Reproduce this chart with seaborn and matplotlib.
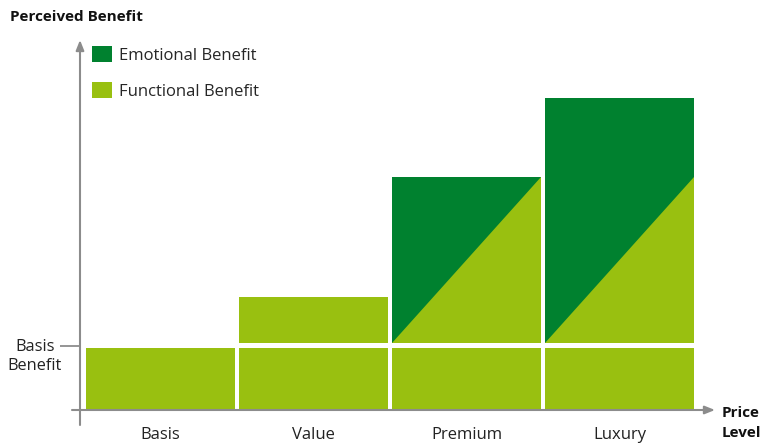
import matplotlib
matplotlib.use("Agg")
import matplotlib.pyplot as plt
from matplotlib.patches import Patch
import seaborn as sns
import numpy as np
import pandas as pd

# ---- data ----
categories = ["Basis", "Value", "Premium", "Luxury"]
basis_benefit = [1.0, 1.0, 1.0, 1.0]
functional_left = [0.0, 0.74, 0.0, 0.0]     # extra functional benefit at left edge of bar
functional_right = [0.0, 0.74, 2.68, 2.68]  # extra functional benefit at right edge of bar
total_extra = [0.0, 0.74, 2.68, 3.95]       # extra total benefit (functional + emotional)
legend_labels = ["Emotional Benefit", "Functional Benefit"]
ytick_label = "Basis\nBenefit"
ylabel_text = "Perceived Benefit"
xlabel_text = "Price\nLevel"

# ---- style ----
DARK = "#00812F"
LIGHT = "#99C010"
GRAY = "#8C8C8C"
GAP = 0.08
WIDTH = 0.975
FONT = ["Open Sans", "DejaVu Sans"]

sns.set_theme(style="white")
plt.rcParams["font.family"] = FONT

W, H = 763, 446
fig = plt.figure(figsize=(W / 100, H / 100), dpi=100)
# axes rect in pixels: left 80, right 715, bottom 410, top 40
ax = fig.add_axes([80 / W, 1 - 410 / H, (715 - 80) / W, (410 - 40) / H])

df = pd.DataFrame({"category": categories, "basis": basis_benefit})
sns.barplot(data=df, x="category", y="basis", color=LIGHT, saturation=1,
            width=WIDTH, ax=ax, linewidth=0, edgecolor="none")

x = np.arange(len(categories))
bottom = np.array(basis_benefit) + GAP
for i in range(len(categories)):
    if total_extra[i] > 0:
        ax.bar(x[i], total_extra[i], bottom=bottom[i], width=WIDTH,
               color=DARK, linewidth=0)
        xl, xr = x[i] - WIDTH / 2, x[i] + WIDTH / 2
        ax.fill([xl, xr, xr, xl],
                [bottom[i], bottom[i], bottom[i] + functional_right[i], bottom[i] + functional_left[i]],
                color=LIGHT, linewidth=0)

ax.set_xlim(-0.526, 3.624)
ax.set_ylim(0, 370 / 62)
for s in ax.spines.values():
    s.set_visible(False)

# axes arrows
ax.annotate("", xy=(0, 1.0), xytext=(0, -15 / 370), xycoords="axes fraction",
            arrowprops=dict(arrowstyle="-|>,head_length=0.5,head_width=0.2",
                            color=GRAY, lw=1.5, shrinkA=0, shrinkB=0),
            annotation_clip=False)
ax.annotate("", xy=(1.0, 0), xytext=(-8 / 635, 0), xycoords="axes fraction",
            arrowprops=dict(arrowstyle="-|>,head_length=0.5,head_width=0.2",
                            color=GRAY, lw=1.5, shrinkA=0, shrinkB=0),
            annotation_clip=False)

# ticks
ax.set_xticks(x)
ax.set_xticklabels(categories, fontsize=12, color="#222222")
ax.tick_params(axis="x", length=0, pad=12)
ax.set_xlabel("")
ax.set_ylabel("")
level = basis_benefit[0] + GAP / 2
ax.set_yticks([level])
ax.set_yticklabels([""])
ax.tick_params(axis="y", length=14.5, width=1.3, color=GRAY, pad=0, left=True)
fig.text(62 / W, 1 - 356.5 / H, ytick_label, fontsize=11.8, color="#222222",
         ha="right", va="center", multialignment="center", linespacing=1.25)

# titles
fig.text(10 / W, 1 - 17 / H, ylabel_text, fontsize=11, fontweight="bold",
         ha="left", va="center", color="#111111")
fig.text(722 / W, 1 - 423 / H, xlabel_text, fontsize=11, fontweight="bold",
         ha="left", va="center", color="#111111", linespacing=1.5)

# legend
handles = [Patch(facecolor=DARK, edgecolor="none"), Patch(facecolor=LIGHT, edgecolor="none")]
fig.legend(handles, legend_labels, loc="upper left",
           bbox_to_anchor=(89 / W, 1 - 43 / H), frameon=False, fontsize=12,
           handlelength=1.2, handleheight=1.1, handletextpad=0.4, labelspacing=1.07,
           borderaxespad=0, borderpad=0.2)

fig.savefig("out.png", dpi=100)
